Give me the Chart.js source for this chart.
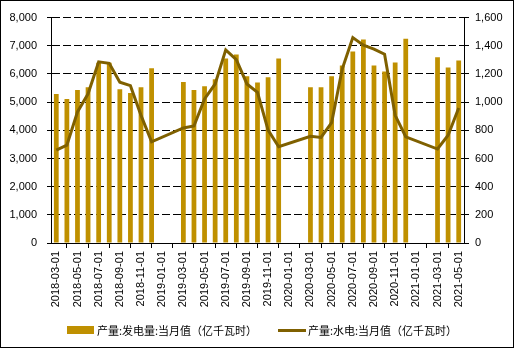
<!DOCTYPE html>
<html>
<head>
<meta charset="utf-8">
<script src="https://cdn.jsdelivr.net/npm/chart.js@4"></script>
<style>
  html, body { margin: 0; padding: 0; background: #fff; }
  #box { position: relative; width: 514px; height: 348px; box-sizing: border-box; border: 1px solid #000; overflow: hidden; }
  #chart { position: absolute; left: 0; top: 0; }
  .leg { position: absolute; top: 321px; height: 16px; font: 11px "Noto Sans CJK SC", sans-serif; color: #000; line-height: 16px; white-space: nowrap; }
  .sw { position: absolute; }
</style>
</head>
<body>
<div id="box">
  <canvas id="chart" width="514" height="348"></canvas>
  <div class="sw" style="left:66px;top:325px;width:27px;height:8px;background:#bf9000"></div>
  <div class="leg" style="left:96px">产量:发电量:当月值（亿千瓦时）</div>
  <div class="sw" style="left:277px;top:328px;width:28px;height:3px;background:#7f6000"></div>
  <div class="leg" style="left:307px">产量:水电:当月值（亿千瓦时）</div>
</div>
<script>
'use strict';
//****************************
// DATA
//****************************
var months = [
  '2018-03-01', '2018-04-01', '2018-05-01', '2018-06-01', '2018-07-01', '2018-08-01',
  '2018-09-01', '2018-10-01', '2018-11-01', '2018-12-01', '2019-01-01', '2019-02-01',
  '2019-03-01', '2019-04-01', '2019-05-01', '2019-06-01', '2019-07-01', '2019-08-01',
  '2019-09-01', '2019-10-01', '2019-11-01', '2019-12-01', '2020-01-01', '2020-02-01',
  '2020-03-01', '2020-04-01', '2020-05-01', '2020-06-01', '2020-07-01', '2020-08-01',
  '2020-09-01', '2020-10-01', '2020-11-01', '2020-12-01', '2021-01-01', '2021-02-01',
  '2021-03-01', '2021-04-01', '2021-05-01'
];

// 发电量 (left axis)
var totalPower = [
  5290, 5110, 5430, 5530, 6400, 6400,
  5460, 5320, 5530, 6200, null, null,
  5710, 5430, 5560, 5810, 6550, 6690,
  5920, 5700, 5880, 6550, null, null,
  5530, 5530, 5920, 6300, 6800, 7220,
  6300, 6090, 6410, 7250, null, null,
  6590, 6230, 6480
];

// 水电 (right axis)
var hydroPower = [
  660, 695, 930, 1059, 1286, 1275,
  1141, 1117, 906, 718, null, null,
  817, 831, 1023, 1129, 1371, 1301,
  1129, 1070, 801, 683, null, null,
  758, 749, 854, 1235, 1458, 1404,
  1376, 1340, 906, 754, null, null,
  667, 765, 958
];

var leftTicks = { min: 0, max: 8000, step: 1000 };
var rightTicks = { min: 0, max: 1600, step: 200 };

var barColor = '#bf9000';
var lineColor = '#7f6000';
var tickFont = { family: 'Liberation Sans', size: 11 };

function fmt(v) {
  return v.toLocaleString('en-US');
}

var ctx = document.getElementById('chart').getContext('2d');
var chart = new Chart(ctx, {
  data: {
    labels: months,
    datasets: [{
      type: 'line',
      label: '产量:水电:当月值（亿千瓦时）',
      data: hydroPower,
      yAxisID: 'y1',
      borderColor: lineColor,
      borderWidth: 3,
      pointRadius: 0,
      tension: 0,
      spanGaps: true,
      order: 0
    }, {
      type: 'bar',
      label: '产量:发电量:当月值（亿千瓦时）',
      data: totalPower,
      yAxisID: 'y',
      backgroundColor: barColor,
      categoryPercentage: 1,
      barPercentage: 0.45,
      order: 1
    }]
  },
  options: {
    responsive: false,
    animation: false,
    layout: { padding: { top: 15, left: 0, right: 0, bottom: 0 } },
    plugins: {
      legend: { display: false },
      tooltip: { enabled: false }
    },
    scales: {
      x: {
        offset: true,
        afterFit: function(scale) { scale.height = 106; },
        grid: { offset: true, drawOnChartArea: false, drawTicks: true, tickLength: 5, color: '#000' },
        border: { color: '#000', width: 1 },
        ticks: {
          autoSkip: false,
          minRotation: 90,
          maxRotation: 90,
          padding: 3,
          color: '#000',
          font: tickFont,
          // label every other month; null also hides that tick mark
          callback: function(val, i) {
            return i % 2 === 0 ? this.getLabelForValue(val) : null;
          }
        }
      },
      y: {
        position: 'left',
        min: leftTicks.min,
        max: leftTicks.max,
        afterFit: function(scale) { scale.width = 50; },
        grid: { color: '#000', tickLength: 4 },
        border: { color: '#000', width: 1, dash: [8, 3] },
        ticks: {
          stepSize: leftTicks.step,
          padding: 10,
          color: '#000',
          font: tickFont,
          callback: function(v) { return fmt(v); }
        }
      },
      y1: {
        position: 'right',
        min: rightTicks.min,
        max: rightTicks.max,
        afterFit: function(scale) { scale.width = 51; },
        grid: { drawOnChartArea: false, color: '#000', tickLength: 5 },
        border: { color: '#000', width: 1 },
        ticks: {
          stepSize: rightTicks.step,
          padding: 6,
          color: '#000',
          font: tickFont,
          callback: function(v) { return fmt(v); }
        }
      }
    }
  }
});
</script>
</body>
</html>
